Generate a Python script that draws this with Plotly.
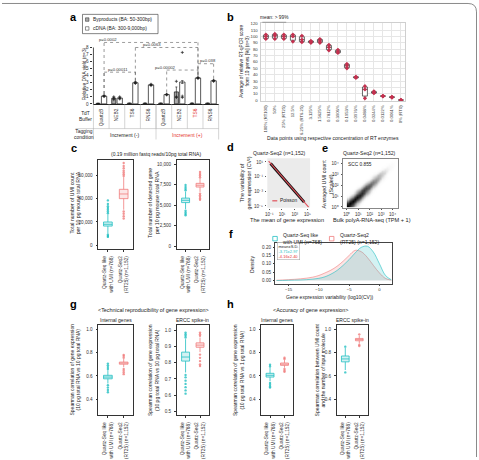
import plotly.graph_objects as go

W, H = 479, 460
FONT = "Liberation Sans, Arial, Helvetica, sans-serif"
CYAN, PINK = "#22BFC2", "#F07C7C"
CYAN_FILL, PINK_FILL = "rgba(34,191,194,0.20)", "rgba(240,124,124,0.20)"
RED_TXT = "#E5332F"
TXT = "#222222"

# ================= DATA =================
# panel a
a_buffers = ["QuartzB", "NEB2", "TS6", "RNS6", "QuartzB", "NEB2", "TS6", "RNS6"]
a_red_labels = [6]
a_groups = ["Increment (-)", "Increment (+)"]
a_byproducts = [0.08, 0.8, 0.1, 0.1, 0.1, 1.7, 0.1, 0.1]
a_byproducts_err = [0.02, 0.12, 0.02, 0.02, 0.02, 0.7, 0.02, 0.02]
a_cdna = [1.1, 0.83, 3.0, 2.7, 1.32, 3.1, 3.68, 3.28]
a_cdna_err = [0.08, 0.1, 0.1, 0.08, 0.05, 0.2, 0.08, 0.06]
a_cdna_reps = [[1.05, 1.1, 1.2], [0.7, 0.8, 1.0], [2.9, 3.0, 3.1], [2.6, 2.7, 2.78],
               [1.28, 1.32, 1.36], [0.9, 1.1, 7.3], [3.6, 3.68, 3.75], [3.2, 3.28, 3.35]]
a_byp_reps = [[0.07, 0.08, 0.09], [0.6, 0.8, 1.0], [0.1, 0.1, 0.1], [0.1, 0.1, 0.1],
              [0.1, 0.1, 0.1], [0.9, 1.0, 3.2], [0.1, 0.1, 0.1], [0.1, 0.1, 0.1]]
# (left category, right category, bracket level, label, label centre)
a_brackets = [(0, 6, 8.72, "p=0.0002", 0.95),
              (2, 6, 8.0, "p=0.0063", 3.75),
              (0, 2, 4.5, "p=0.00011", 1.6),
              (4, 6, 4.8, "p=0.00002", 4.6),
              (6, 7, 5.7, "p=0.038", 7.35)]

# panel b
b_labels = ["100% (RT100)", "50%", "25% (RT25)", "12.5%", "6.25% (RT6.25)", "3.125%",
            "1.5625%", "0.7812%", "0.3906%", "0.1953%", "0.0976%", "0.0488%",
            "0.0244%", "0.0122%", "0.0061%", "0% (RT0)"]
b_values = [[96, 100, 103], [96, 101, 104], [96, 100, 103], [92, 100, 103],
            [91, 95, 101], [90, 92, 93], [90, 93, 96], [78, 83, 87],
            [74, 76, 79], [50, 54, 57], [35, 36, 37], [3, 17, 22],
            [11, 12, 14], [6, 6.5, 7], [4, 5, 5.5], [0, 0.3, 0.6]]

# panels c, g, h  (box statistics: lower whisker, q1, median, q3, upper whisker)
groups = ["Quartz-Seq like<br>with UMI (n=768)", "Quartz-Seq2<br>(RT25) (n=1,152)"]
c_umi_stats = [[10000, 16500, 18000, 20000, 26500], [30500, 40000, 44000, 48000, 58500]]
c_umi_out = [[27500, 29000, 30500, 32000, 33500, 35500, 38500, 9000, 8000, 7200],
             [59500, 61000, 62500, 64000, 66000, 68000, 70500, 29000, 27000, 25000, 23000]]
c_gene_stats = [[4500, 5300, 5580, 5850, 6650], [6600, 7200, 7420, 7650, 8300]]
c_gene_out = [[6800, 7000, 7200, 7450, 4300, 4100, 3900, 3750],
              [8400, 8600, 8800, 9050, 6400, 6200, 6000, 5800, 5650]]
g_int_stats = [[0.535, 0.575, 0.59, 0.605, 0.65], [0.675, 0.70, 0.71, 0.718, 0.745]]
g_int_out = [[0.66, 0.675, 0.69, 0.705, 0.52, 0.5, 0.48, 0.46],
             [0.755, 0.77, 0.78, 0.66, 0.645, 0.63, 0.615]]
g_ercc_stats = [[0.74, 0.81, 0.835, 0.865, 0.945], [0.865, 0.895, 0.908, 0.922, 0.955]]
g_ercc_out = [[0.955, 0.965, 0.975, 0.985, 0.725, 0.71, 0.69, 0.67, 0.65, 0.63, 0.61],
              [0.965, 0.975, 0.985, 0.85, 0.83, 0.81, 0.79, 0.78]]
h_int_stats = [[0.555, 0.59, 0.605, 0.622, 0.67], [0.67, 0.69, 0.70, 0.71, 0.735]]
h_int_out = [[0.68, 0.695, 0.54, 0.525, 0.51, 0.5], [0.745, 0.755, 0.66, 0.645, 0.635]]
h_ercc_stats = [[0.65, 0.72, 0.745, 0.77, 0.84], [0.875, 0.90, 0.91, 0.92, 0.945]]
h_ercc_out = [[0.85, 0.63], [0.955, 0.865, 0.855]]

# panel d
d_band_mean = [0.16, 30000]
d_band_cv2 = [6.0, 3.3e-5]
d_poisson_mean = [0.08, 150000]
d_poisson_cv2 = [12.5, 6.7e-6]

# panel e (log10 grid, density along the diagonal and across it)
e_grid = [0.1 + 0.2 * k for k in range(23)]
e_along = [1, 1, 1, 0.97, 0.93, 0.88, 0.82, 0.75, 0.68, 0.6, 0.52, 0.45, 0.38, 0.31,
           0.25, 0.19, 0.14, 0.1, 0.07, 0.05, 0.03, 0.02, 0.01]
e_across = [1.0, 0.78, 0.45, 0.22, 0.1, 0.04, 0.015]

# panel f
f_x = [-17, -16, -15, -14, -13, -12, -11, -10, -9, -8, -7, -6, -5, -4, -3, -2, -1, 0, 1, 2]
f_cyan = [0, 0, 0.001, 0.002, 0.003, 0.005, 0.008, 0.013, 0.022, 0.038, 0.06, 0.09,
          0.125, 0.165, 0.198, 0.205, 0.17, 0.1, 0.03, 0.003]
f_pink = [0.001, 0.003, 0.005, 0.007, 0.01, 0.014, 0.02, 0.03, 0.045, 0.062, 0.085,
          0.115, 0.15, 0.18, 0.172, 0.138, 0.09, 0.045, 0.012, 0.002]
f_stats = ["-3.71\u00b12.97", "-4.16\u00b12.40"]

# ================= HELPERS =================
def X(px):
    return px / W


def Y(py):
    return 1 - py / H


def xdom(x0, x1):
    return [X(x0), X(x1)]


def ydom(y0, y1):
    return [Y(y1), Y(y0)]


annotations = []
shapes = []


def ann(x, y, text, size=5.0, color=TXT, angle=0, xa="center", ya="middle", **kw):
    d = dict(x=X(x), y=Y(y), xref="paper", yref="paper", text=text, showarrow=False,
             font=dict(size=size, color=color, family=FONT), textangle=angle,
             xanchor=xa, yanchor=ya)
    d.update(kw)
    annotations.append(d)


def line(x0, y0, x1, y1, color="#999", width=0.6, dash="solid"):
    shapes.append(dict(type="line", xref="paper", yref="paper", x0=X(x0), y0=Y(y0),
                       x1=X(x1), y1=Y(y1), line=dict(color=color, width=width, dash=dash)))


def rect(x0, y0, x1, y1, color="#222", width=0.6, fill="rgba(0,0,0,0)"):
    shapes.append(dict(type="rect", xref="paper", yref="paper", x0=X(x0), y0=Y(y0),
                       x1=X(x1), y1=Y(y1), line=dict(color=color, width=width), fillcolor=fill))


TF = dict(size=4.6, color="#333", family=FONT)


def xaxis(x0, x1, anchor, **kw):
    d = dict(domain=xdom(x0, x1), anchor=anchor, showgrid=False, zeroline=False,
             ticks="", tickfont=TF, fixedrange=True)
    d.update(kw)
    return d


def yaxis(y0, y1, anchor, **kw):
    d = dict(domain=ydom(y0, y1), anchor=anchor, showgrid=False, zeroline=False,
             ticks="outside", ticklen=2, tickwidth=0.6, tickcolor="#333",
             tickfont=TF, fixedrange=True)
    d.update(kw)
    return d


fig = go.Figure()
layout = dict(width=W, height=H, margin=dict(l=0, r=0, t=0, b=0),
              paper_bgcolor="white", plot_bgcolor="white", showlegend=False,
              font=dict(family=FONT, size=5, color=TXT))

# ================= PANEL a =================
a_x = [i + 0.5 for i in range(len(a_buffers))]
a_ticktext = [("<span style='color:%s'>%s</span>" % (RED_TXT, b)) if i in a_red_labels else b
              for i, b in enumerate(a_buffers)]
layout["xaxis"] = xaxis(92, 218, "y", range=[0, 8], tickvals=a_x, ticktext=a_ticktext,
                        tickangle=-90, showline=True, linecolor="#222", linewidth=0.8,
                        ticklabelstandoff=2, tickfont=dict(size=4.8, color="#333", family=FONT))
layout["yaxis"] = yaxis(40, 103, "x", range=[0, 8.842], tickvals=list(range(9)),
                        showline=False, ticklabelstandoff=1)
shapes.append(dict(type="line", xref="paper", yref="y", x0=X(92), x1=X(92), y0=0, y1=8,
                   line=dict(color="#222", width=0.8)))
fig.add_trace(go.Bar(x=[v - 0.2 for v in a_x], y=a_byproducts, width=0.26,
                     marker=dict(color="#AAAAAA", line=dict(color="#111", width=0.7)),
                     error_y=dict(type="data", array=a_byproducts_err, thickness=0.6,
                                  width=1, color="#111"),
                     xaxis="x", yaxis="y"))
fig.add_trace(go.Bar(x=[v + 0.18 for v in a_x], y=a_cdna, width=0.34,
                     marker=dict(color="white", line=dict(color="#111", width=0.7)),
                     error_y=dict(type="data", array=a_cdna_err, thickness=0.6,
                                  width=1.2, color="#111"),
                     xaxis="x", yaxis="y"))
px_, py_ = [], []
for i, reps in enumerate(a_cdna_reps):
    for r in reps:
        px_.append(a_x[i] + 0.18)
        py_.append(r)
for i, reps in enumerate(a_byp_reps):
    if a_byproducts[i] > 0.5:
        for r in reps:
            px_.append(a_x[i] - 0.2)
            py_.append(r)
fig.add_trace(go.Scatter(x=px_, y=py_, mode="markers",
                         marker=dict(size=2.2, color="#222", symbol="cross-thin",
                                     line=dict(width=0.7, color="#222")),
                         xaxis="x", yaxis="y"))
for (l, r, lev, lab, lc) in a_brackets:
    xl, xr = a_x[l] + 0.18, a_x[r] + 0.18
    for (x0, y0, x1, y1) in [(xl, a_cdna[l] + 0.3, xl, lev), (xl, lev, xr, lev),
                             (xr, lev, xr, a_cdna[r] + 0.3)]:
        shapes.append(dict(type="line", xref="x", yref="y", x0=x0, y0=y0, x1=x1, y1=y1,
                           line=dict(color="#555", width=0.6, dash="dot")))
    annotations.append(dict(x=lc, y=lev, xref="x", yref="y", text=lab, showarrow=False,
                            font=dict(size=4.2, color="#333", family=FONT),
                            xanchor="center", yanchor="bottom", yshift=-1.5))
# legend a
rect(81, 12.5, 157, 32, color="#333", width=0.6)
rect(84, 16, 87.5, 19.5, color="#222", width=0.5, fill="#AAAAAA")
rect(84, 25, 87.5, 28.5, color="#222", width=0.5, fill="white")
ann(90, 17.8, "Byproducts (BA: 50-300bp)", size=4.9, xa="left")
ann(90, 26.8, "cDNA (BA: 300-9,000bp)", size=4.9, xa="left")
ann(82.5, 72, "Relative DNA yield (n=3)", size=4.8, angle=-90)
# table lines
for k in range(1, 8):
    line(92 + 15.75 * k, 103, 92 + 15.75 * k, 128, color="#aaa", width=0.5)
for k in (0, 4, 8):
    line(92 + 15.75 * k, 103, 92 + 15.75 * k, 139, color="#aaa", width=0.5)
line(74, 128, 218, 128, color="#aaa", width=0.5)
ann(84, 116, "TdT<br>Buffer", size=4.9)
ann(83, 133.5, "Tagging<br>condition", size=4.9)
ann(123.5, 134.5, a_groups[0], size=5.1)
ann(186.5, 134.5, a_groups[1], size=5.1, color=RED_TXT)

# ================= PANEL b =================
layout["xaxis2"] = xaxis(261, 406, "y2", range=[-0.5, 15.5], tickvals=list(range(16)),
                         ticktext=b_labels, tickangle=-90, showgrid=True,
                         gridcolor="#e6e6e6", gridwidth=0.6, showline=True, mirror=True,
                         linecolor="#cfcfcf", linewidth=0.6,
                         tickfont=dict(size=4.2, color="#333", family=FONT),
                         ticklabelstandoff=2)
layout["yaxis2"] = yaxis(21.5, 100, "x2", range=[-1.1, 120.7],
                         tickvals=list(range(0, 121, 10)), showgrid=True,
                         gridcolor="#e6e6e6", gridwidth=0.6, showline=True, mirror=True,
                         linecolor="#cfcfcf", linewidth=0.6, ticks="",
                         tickfont=dict(size=4.3, color="#333", family=FONT),
                         ticklabelstandoff=2)
bx, by = [], []
for i, vals in enumerate(b_values):
    for v in vals:
        bx.append(i)
        by.append(v)
fig.add_trace(go.Box(x=bx, y=by, boxpoints="all", jitter=0, pointpos=0, width=0.55,
                     whiskerwidth=0.6, fillcolor="white",
                     line=dict(color="#444", width=0.8),
                     marker=dict(color="#C4314F", size=3.2, symbol="diamond"),
                     xaxis="x2", yaxis="y2"))
ann(333, 137.5, "Data points using respective concentration of RT enzymes", size=5.1)
ann(244, 60, "Average of relative RT-qPCR score<br>from 10 genes [%] (n=3)", size=4.7, angle=-90)
ann(274, 15.5, "mean: &gt; 99%", size=4.8)
line(262, 20.5, 286, 20.5, color="#888", width=0.8)

# ================= PANELS c, g, h : box plots =================
def box_panel(n, xr, yr, stats, outs, yrange, tickvals, ticktext):
    xa, ya = "x%d" % n, "y%d" % n
    layout["xaxis%d" % n] = xaxis(xr[0], xr[1], ya, range=[-0.6, 1.6], tickvals=[0, 1],
                                  ticktext=groups, tickangle=-90, showline=True,
                                  mirror=True, linecolor="#333", linewidth=0.7,
                                  ticks="outside", ticklen=2, tickwidth=0.6,
                                  tickcolor="#333", ticklabelstandoff=2,
                                  tickfont=dict(size=4.8, color="#333", family=FONT))
    layout["yaxis%d" % n] = yaxis(yr[0], yr[1], xa, range=yrange, tickvals=tickvals,
                                  ticktext=ticktext, showline=True, mirror=True,
                                  linecolor="#333", linewidth=0.7, ticklabelstandoff=2)
    for k, (col, fill) in enumerate([(CYAN, CYAN_FILL), (PINK, PINK_FILL)]):
        s = stats[k]
        fig.add_trace(go.Box(x=[k], lowerfence=[s[0]], q1=[s[1]], median=[s[2]],
                             q3=[s[3]], upperfence=[s[4]], width=0.55, whiskerwidth=0,
                             fillcolor=fill, line=dict(color=col, width=0.8),
                             boxpoints=False, xaxis=xa, yaxis=ya))
        fig.add_trace(go.Scatter(x=[k] * len(outs[k]), y=outs[k], mode="markers",
                                 marker=dict(size=2.4, color=col, opacity=0.8),
                                 xaxis=xa, yaxis=ya))


box_panel(3, (97, 132), (160, 250), c_umi_stats, c_umi_out, [-3390, 72900],
          [0, 20000, 40000, 60000], ["0", "20,000", "40,000", "60,000"])
box_panel(4, (176, 208), (160, 250), c_gene_stats, c_gene_out, [-400, 10470],
          [0, 2500, 5000, 7500, 10000], ["0", "2,500", "5,000", "7,500", "10,000"])
box_panel(8, (97, 132), (327, 418), g_int_stats, g_int_out, [0.262, 1.031],
          [0.4, 0.6, 0.8, 1.0], ["0.4", "0.6", "0.8", "1.0"])
box_panel(9, (176, 208), (327, 418), g_ercc_stats, g_ercc_out, [0.476, 1.029],
          [0.5, 0.6, 0.7, 0.8, 0.9, 1.0], ["0.5", "0.6", "0.7", "0.8", "0.9", "1.0"])
box_panel(10, (261, 293), (327, 418), h_int_stats, h_int_out, [0.262, 1.031],
          [0.4, 0.6, 0.8, 1.0], ["0.4", "0.6", "0.8", "1.0"])
box_panel(11, (337, 368), (327, 418), h_ercc_stats, h_ercc_out, [0.262, 1.031],
          [0.4, 0.6, 0.8, 1.0], ["0.4", "0.6", "0.8", "1.0"])

ann(155, 154, "(0.19 million fastq reads/10pg total RNA)", size=5.0)
ann(74, 203, "Total number of UMI count<br>per 10 pg mouse total RNA", size=5.2, angle=-90)
ann(153, 203, "Total number of detected gene<br>per 10 pg mouse total RNA", size=5.2, angle=-90)

ann(152, 311.5, "&lt;Technical reproducibility of gene expression&gt;", size=5.4)
ann(311, 311.5, "&lt;Accuracy of gene expression&gt;", size=5.4)
ann(114.5, 321.5, "Internal genes", size=5.0)
ann(192, 321.5, "ERCC spike-in", size=5.0)
ann(277, 321.5, "Internal genes", size=5.0)
ann(352.5, 321.5, "ERCC spike-in", size=5.0)
ann(74, 372, "Spearman correlation of gene expression<br>(10 pg total RNA vs 10 pg total RNA)", size=5.0, angle=-90)
ann(153, 372, "Spearman correlation of gene expression<br>(10 pg total RNA vs 10 pg total RNA)", size=5.0, angle=-90)
ann(238.5, 372, "Spearman correlation of gene expression<br>(10 pg total RNA vs 1 pg total RNA)", size=5.0, angle=-90)
ann(320.5, 372, "Spearman correlation between UMI count<br>and the number of input molecule", size=5.0, angle=-90)

# ================= PANEL d =================
sup = {"-1": "10\u207b\u00b9", "1": "10\u00b9", "3": "10\u00b3", "5": "10\u2075",
       "-3": "10\u207b\u00b3", "-5": "10\u207b\u2075"}
layout["xaxis5"] = xaxis(267, 310, "y5", type="log", range=[-1.3, 5.4],
                         tickvals=[0.1, 10, 1000, 100000],
                         ticktext=[sup["-1"], sup["1"], sup["3"], sup["5"]],
                         ticks="outside", ticklen=1.5, tickcolor="#555", ticklabelstandoff=0)
layout["yaxis5"] = yaxis(158, 208, "x5", type="log", range=[-5.25, 1.5],
                         tickvals=[10, 0.1, 0.001, 0.00001],
                         ticktext=[sup["1"], sup["-1"], sup["-3"], sup["-5"]],
                         ticklen=1.5, tickcolor="#555", ticklabelstandoff=1)
shapes.append(dict(type="rect", xref="x5 domain", yref="y5 domain", x0=0, x1=1, y0=0, y1=1,
                   fillcolor="#EBEBEB", line=dict(width=0), layer="below"))
fig.add_trace(go.Scatter(x=d_band_mean, y=d_band_cv2, mode="lines",
                         line=dict(color="#111", width=3.0), xaxis="x5", yaxis="y5"))
fig.add_trace(go.Scatter(x=d_poisson_mean, y=d_poisson_cv2, mode="lines",
                         line=dict(color="#E0505A", width=1.1), xaxis="x5", yaxis="y5"))
line(272, 201, 277, 201, color="#E0505A", width=1.2)
ann(278, 201, "Poisson", size=4.8, xa="left")
ann(279, 153, "Quartz-Seq2 (n=1,152)", size=5.1)
ann(287, 220.5, "The mean of gene expression", size=5.6)
ann(245, 183, "The variability of<br>gene expression (CV\u00b2)", size=5.3, angle=-90)

# ================= PANEL e =================
ez = []
for i in range(len(e_grid)):
    row = []
    for j in range(len(e_grid)):
        k = abs(i - j)
        row.append(e_along[(i + j) // 2] * (e_across[k] if k < len(e_across) else 0.0))
    ez.append(row)
fig.add_trace(go.Heatmap(x=e_grid, y=e_grid, z=ez, zmin=0, zmax=1, zsmooth="best",
                         colorscale=[[0, "rgba(255,255,255,0)"], [0.15, "#d9d9d9"],
                                     [0.5, "#6a6a6a"], [1, "#000000"]],
                         showscale=False, xaxis="x6", yaxis="y6", hoverinfo="skip"))
etext = ["10\u2070", "10\u00b9", "10\u00b2", "10\u00b3", "10\u2074"]
layout["xaxis6"] = xaxis(343, 398, "y6", range=[-0.35, 4.43], tickvals=[0, 1, 2, 3, 4],
                         ticktext=etext, showline=True, mirror=True, linecolor="#888",
                         linewidth=0.6, ticks="outside", ticklen=1.5, tickcolor="#555",
                         ticklabelstandoff=0)
layout["yaxis6"] = yaxis(159, 208, "x6", range=[-0.08, 4.42], tickvals=[0, 1, 2, 3, 4],
                         ticktext=etext, showline=True, mirror=True, linecolor="#888",
                         linewidth=0.6, ticklen=1.5, tickcolor="#555", ticklabelstandoff=1)
ann(346, 164.5, "SCC 0.855", size=4.8, xa="left")
ann(370, 153, "Quartz-Seq2 (n=1,152)", size=5.1)
ann(372, 220.5, "Bulk polyA-RNA-seq (TPM + 1)", size=5.6)
ann(327.5, 184, "Averaged UMI count<br>(Scaled)", size=5.3, angle=-90)

# ================= PANEL f =================
layout["xaxis7"] = xaxis(275, 392, "y7", range=[-17.2, 2.0], tickvals=[-15, -10, -5, 0],
                         ticktext=["\u221215", "\u221210", "\u22125", "0"], showline=True,
                         mirror=True, linecolor="#444", linewidth=0.7, ticks="outside",
                         ticklen=1.5, tickcolor="#444", ticklabelstandoff=0,
                         tickfont=dict(size=4.3, color="#333", family=FONT))
layout["yaxis7"] = yaxis(244, 285, "x7", range=[-0.0205, 0.222],
                         tickvals=[0, 0.05, 0.1, 0.15, 0.2],
                         ticktext=["0.00", "0.05", "0.10", "0.15", "0.20"], showline=True,
                         mirror=True, linecolor="#444", linewidth=0.7, ticklen=1.5,
                         ticklabelstandoff=1)
fig.add_trace(go.Scatter(x=f_x, y=f_pink, mode="lines", fill="tozeroy",
                         fillcolor="rgba(240,124,124,0.20)", line=dict(color=PINK, width=0.6),
                         line_shape="spline", xaxis="x7", yaxis="y7"))
fig.add_trace(go.Scatter(x=f_x, y=f_cyan, mode="lines", fill="tozeroy",
                         fillcolor="rgba(34,191,194,0.20)", line=dict(color=CYAN, width=0.6),
                         line_shape="spline", xaxis="x7", yaxis="y7"))
ann(277, 251.5, "mean\u00b1S.D.<br><span style='color:%s'>%s</span><br><span style='color:%s'>%s</span>"
    % (CYAN, f_stats[0], RED_TXT, f_stats[1]), size=4.0, xa="left", bordercolor="#999",
    borderwidth=0.5, borderpad=1, bgcolor="white", align="left")
rect(272.5, 237, 277, 241.5, color=CYAN, width=0.8)
ann(281, 239.5, "Quartz-Seq like<br>with UMI (n=768)", size=5.1, xa="left", align="left")
rect(329.5, 237, 334, 241.5, color=PINK, width=0.8)
ann(338, 239.5, "Quartz-Seq2<br>(RT25) (n=1,152)", size=5.1, xa="left", align="left")
ann(251.5, 265, "Density", size=5.1, angle=-90)
ann(330, 298.5, "Gene expression variability (log10(CV))", size=5.0)

# ================= panel letters & frame =================
for (lx, ly, lt) in [(72, 15, "a"), (230, 15, "b"), (72, 148, "c"), (230, 147, "d"),
                     (325, 148, "e"), (230, 235, "f"), (72, 305, "g"), (230, 305, "h")]:
    ann(lx, ly, "<b>%s</b>" % lt, size=11, color="#000")
shapes.append(dict(type="path", xref="paper", yref="paper",
                   path="M 0,%f L %f,%f Q %f,%f %f,%f L %f,0" % (
                       Y(1.5), X(469), Y(1.5), X(477.5), Y(1.5), X(477.5), Y(10), X(477.5)),
                   line=dict(color="#8a8a8a", width=1)))

layout["annotations"] = annotations
layout["shapes"] = shapes
fig.update_layout(**layout)
fig.write_html("out.html")
